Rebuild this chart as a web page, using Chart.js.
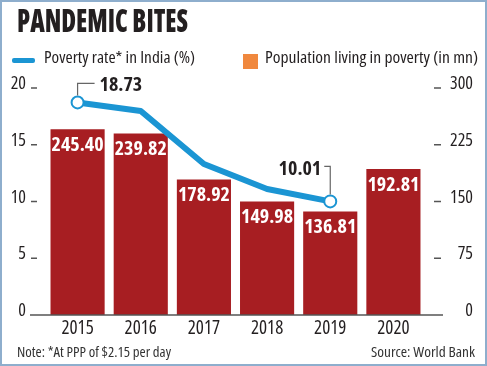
<!DOCTYPE html>
<html>
<head>
<meta charset="utf-8">
<script src="https://cdn.jsdelivr.net/npm/chart.js@4.4.1/dist/chart.umd.min.js"></script>
<style>
  html, body { margin: 0; padding: 0; background: #fff; }
  #wrap {
    position: relative; width: 487px; height: 366px; overflow: hidden; background: #fff;
    box-shadow: inset 0 0 0 2px #8eaecd;
    font-family: "Open Sans", sans-serif; font-stretch: 75%; color: #231f20;
  }
  #chart { position: absolute; left: 0; top: 0; }
  .txt { position: absolute; white-space: nowrap; transform-origin: 0 50%; }
  #title { left: 17px; top: 5px; font-size: 31px; line-height: 31px; font-weight: 800; }
  .leg { top: 48px; font-size: 17px; line-height: 17px; }
  .swatch { position: absolute; }
  .foot { top: 345px; font-size: 14px; line-height: 14px; color: #333; }
</style>
</head>
<body>
<div id="wrap">
  <canvas id="chart" width="487" height="366"></canvas>
  <div id="title" class="txt" data-w="171">PANDEMIC BITES</div>
  <div class="swatch" style="left:12px;top:58px;width:23px;height:5px;border-radius:2px;background:#1b95d3"></div>
  <div class="txt leg" style="left:44px" data-w="151">Poverty rate* in India (%)</div>
  <div class="swatch" style="left:243px;top:54px;width:15px;height:15px;background:#f0883e"></div>
  <div class="txt leg" style="left:265px" data-w="213">Population living in poverty (in mn)</div>
  <div class="txt foot" style="left:17px" data-w="154">Note: *At PPP of $2.15 per day</div>
  <div class="txt foot" style="left:371px" data-w="104">Source: World Bank</div>
</div>
<script>
// ---- data ----
const years = ['2015', '2016', '2017', '2018', '2019', '2020'];
const population = [245.40, 239.82, 178.92, 149.98, 136.81, 192.81];   // mn, right axis
const povertyRate = [18.73, 17.97, 13.3, 11.1, 10.01, null];           // %, left axis
const rateTicks = [0, 5, 10, 15, 20];
const popTicks = [0, 75, 150, 225, 300];
const calloutIdx = [0, 4];   // points with a value label

// Open Sans has a width axis; "condensed" goes into the font string through the weight field
const FONT = '"Open Sans", sans-serif';
const BLUE = '#1b95d3';
const RED = '#a71e22';
const INK = '#231f20';

// fit html texts to the widths of the original
document.querySelectorAll('.txt[data-w]').forEach(el => {
  const w = el.getBoundingClientRect().width;
  el.style.transform = 'scaleX(' + (+el.dataset.w / w).toFixed(3) + ')';
});

// tick marks, baseline, bar values, callouts
const decor = {
  id: 'decor',
  afterDatasetsDraw(chart) {
    const ctx = chart.ctx;
    const yl = chart.scales.yRate, yr = chart.scales.yPop;
    const base = yl.getPixelForValue(0);
    ctx.save();
    ctx.strokeStyle = '#555';
    ctx.lineWidth = 1.5;
    ctx.beginPath();
    ctx.moveTo(30, base); ctx.lineTo(443, base);
    rateTicks.forEach(v => { const y = yl.getPixelForValue(v); ctx.moveTo(31, y); ctx.lineTo(37, y); });
    popTicks.forEach(v => { const y = yr.getPixelForValue(v); ctx.moveTo(434, y); ctx.lineTo(441, y); });
    ctx.stroke();

    // values inside bars
    ctx.fillStyle = '#fff';
    ctx.font = 'bold condensed 20px ' + FONT;
    ctx.textAlign = 'center';
    ctx.textBaseline = 'middle';
    chart.getDatasetMeta(1).data.forEach((bar, i) => {
      ctx.fillText(population[i].toFixed(2), bar.x, bar.y + 16);
    });

    // callouts on the line
    const pts = chart.getDatasetMeta(0).data;
    ctx.strokeStyle = '#666';
    ctx.lineWidth = 1.2;
    ctx.fillStyle = INK;
    calloutIdx.forEach((i, k) => {
      const p = pts[i];
      ctx.beginPath();
      if (k === 0) {
        ctx.moveTo(p.x, p.y - 7); ctx.lineTo(p.x, p.y - 19); ctx.lineTo(p.x + 17, p.y - 19);
        ctx.stroke();
        ctx.textAlign = 'left';
        ctx.fillText(povertyRate[i].toFixed(2), p.x + 22, p.y - 17);
      } else {
        ctx.moveTo(p.x, p.y - 7); ctx.lineTo(p.x, p.y - 35); ctx.lineTo(p.x - 6, p.y - 35);
        ctx.stroke();
        ctx.textAlign = 'right';
        ctx.fillText(povertyRate[i].toFixed(2), p.x - 9, p.y - 32);
      }
    });
    ctx.restore();
  }
};

new Chart(document.getElementById('chart'), {
  data: {
    labels: years,
    datasets: [
      {
        type: 'line',
        label: 'Poverty rate* in India (%)',
        data: povertyRate,
        yAxisID: 'yRate',
        order: 0,
        borderColor: BLUE,
        borderWidth: 6,
        borderJoinStyle: 'round',
        tension: 0,
        pointRadius: povertyRate.map((v, i) => calloutIdx.includes(i) ? 6 : 0),
        pointBackgroundColor: '#fff',
        pointBorderColor: BLUE,
        pointBorderWidth: 2,
      },
      {
        type: 'bar',
        label: 'Population living in poverty (in mn)',
        data: population,
        yAxisID: 'yPop',
        order: 1,
        backgroundColor: RED,
        categoryPercentage: 1,
        barPercentage: 0.857,
      },
    ],
  },
  options: {
    responsive: false,
    animation: false,
    layout: { padding: { top: 88, bottom: 21, left: 0, right: 14 } },
    plugins: { legend: { display: false }, tooltip: { enabled: false } },
    scales: {
      x: {
        offset: true,
        grid: { display: false, drawTicks: false },
        border: { display: false },
        ticks: { color: INK, padding: 2, font: { family: FONT, weight: 'condensed', size: 19 } },
        afterFit: s => { s.height = 30; },
      },
      yRate: {
        position: 'left',
        min: 0, max: 20,
        grid: { display: false, drawTicks: false },
        border: { display: false },
        ticks: { stepSize: 5, color: INK, padding: 20, labelOffset: -4, font: { family: FONT, weight: 'condensed', size: 18 } },
        afterFit: s => { s.width = 46; },
      },
      yPop: {
        position: 'right',
        min: 0, max: 300,
        grid: { display: false, drawTicks: false },
        border: { display: false },
        ticks: { stepSize: 75, color: INK, crossAlign: 'far', labelOffset: -4, font: { family: FONT, weight: 'condensed', size: 18 } },
        afterFit: s => { s.width = 48; },
      },
    },
  },
  plugins: [decor],
});
</script>
</body>
</html>
